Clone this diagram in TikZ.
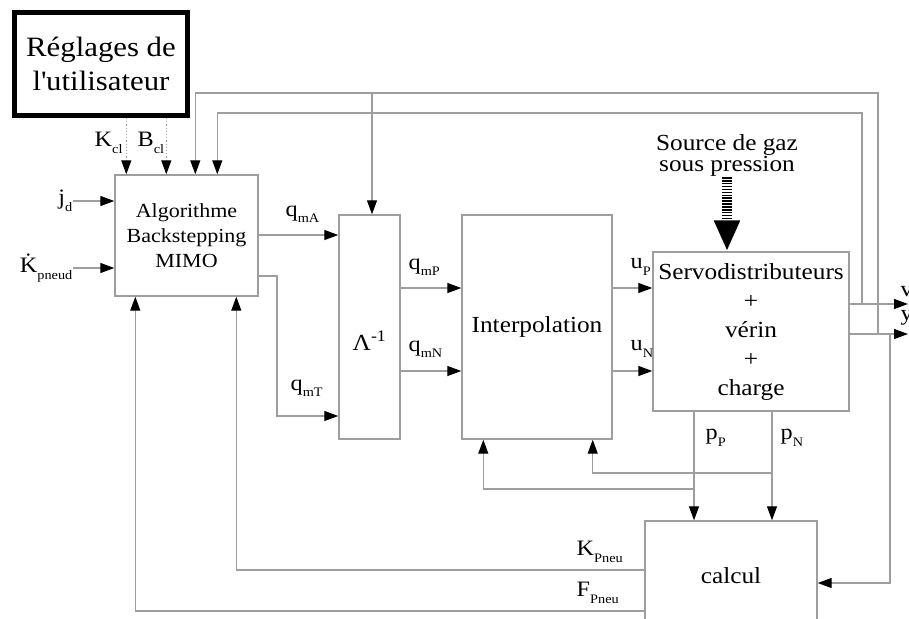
\documentclass[tikz,border=0pt]{standalone}
\usepackage{fontspec}
\setmainfont{Liberation Serif}[FakeStretch=1.1]
\usetikzlibrary{arrows.meta,calc,positioning}
\definecolor{wire}{HTML}{9E9E9E}
\newcommand{\lowsub}[1]{\raisebox{-0.65ex}{\fontsize{13}{13}\selectfont #1}}

\begin{document}
\begin{tikzpicture}[x=1pt, y=-1pt,
  blk/.style={draw=wire, line width=1.4pt, inner sep=0pt, align=center,
              font=\fontsize{23}{29}\selectfont},
  lbl/.style={inner sep=0.5pt, font=\fontsize{22}{22}\selectfont},
  arr/.style={draw=wire, line width=1.2pt, -{Triangle[length=14pt,width=10pt,color=black,fill=black]}},
  dotarr/.style={arr, dotted},
  gas/.style={draw=black, line width=10pt, dash pattern=on 1.5pt off 1.4pt,
              -{Triangle[length=31pt,width=24pt]}}
]
\useasboundingbox (0,0) rectangle (909,618);

\node[draw=black, line width=5pt, minimum width=173pt, minimum height=103pt, inner sep=0pt,
      align=center, font=\fontsize{28}{34}\selectfont] (user) at (101,64)
      {Réglages de\\l\textquotesingle utilisateur};
\node[blk, minimum width=143pt, minimum height=121pt, font=\fontsize{20}{25}\selectfont]
      (algo) at (186.5,235.5) {Algorithme\\Backstepping\\MIMO};
\node[blk, minimum width=61pt, minimum height=224pt] (lam) at (369.5,327) {\phantom{Λ}};
\node[font=\fontsize{23}{23}\selectfont] at ([yshift=-14pt]lam.center) {Λ\textsuperscript{-1}};
\node[blk, minimum width=150pt, minimum height=224pt] (interp) at (537,327) {Interpolation};
\node[blk, minimum width=196pt, minimum height=159pt] (servo) at (751,331.5)
      {Servodistributeurs\\+\\vérin\\+\\charge};
\node[blk, minimum width=172pt, minimum height=109pt] (calc) at (731,575.5) {calcul};
\node[inner sep=1pt, align=center, font=\fontsize{23}{21}\selectfont] (src) at (727,155)
      {Source de gaz\\sous pression};

\node[lbl, anchor=west] (kcl) at (94,143) {K\lowsub{cl}};
\node[lbl, anchor=west] (bcl) at (137,143) {B\lowsub{cl}};
\node[lbl, anchor=east] (jd) at (73,201) {j\lowsub{d}};
\node[lbl, anchor=east] (kp) at (73,268) {\.{K}\lowsub{pneud}};
\node[lbl, anchor=west] (qa) at (285,214) {q\lowsub{mA}};
\node[lbl, anchor=west] (qt) at (290,388) {q\lowsub{mT}};
\node[lbl, anchor=west] (qp) at (408,267) {q\lowsub{mP}};
\node[lbl, anchor=west] (qn) at (408,349) {q\lowsub{mN}};
\node[lbl, anchor=west] (up) at (630,267) {u\lowsub{P}};
\node[lbl, anchor=west] (un) at (630,349) {u\lowsub{N}};
\node[lbl, anchor=west] (pp) at (705,438) {p\lowsub{P}};
\node[lbl, anchor=west] (pn) at (780,438) {p\lowsub{N}};
\node[lbl, anchor=west] (kpn) at (576,552) {K\lowsub{Pneu}};
\node[lbl, anchor=west] (fpn) at (576,593) {F\lowsub{Pneu}};
\node[lbl, anchor=west] (vl) at (900,292) {v};
\node[lbl, anchor=west] (yl) at (900,318) {y};

\coordinate (a1) at ([xshift=12pt]algo.north west);
\coordinate (a2) at ([xshift=52pt]algo.north west);
\coordinate (a3) at ([xshift=81pt]algo.north west);
\coordinate (a4) at ([xshift=103pt]algo.north west);
\coordinate (top1) at (0,93);
\coordinate (top2) at (0,113);
\coordinate (vtap) at (862,304);
\coordinate (ytap) at (878,334);
\coordinate (ctap) at (890,334);
\coordinate (vout) at (908,304);
\coordinate (yout) at (908,334);
\coordinate (rA) at (0,235);
\coordinate (rT) at (0,276);
\coordinate (rT2) at (277,416);
\coordinate (rP) at (0,288);
\coordinate (rN) at (0,371);
\coordinate (bP) at (694,489);
\coordinate (bN) at (772,473);

\draw[dotarr] (a1 |- user.south) -- (a1);
\draw[dotarr] (a2 |- user.south) -- (a2);
\draw[arr] (ytap) -- (ytap |- top1) -- (a3 |- top1) -- (a3);
\draw[arr] ([xshift=2.5pt]lam.north |- top1) -- ([xshift=2.5pt]lam.north);
\draw[arr] (vtap) -- (vtap |- top2) -- (a4 |- top2) -- (a4);
\draw[arr] (servo.east |- vout) -- (vout);
\draw[arr] (servo.east |- yout) -- (yout);
\draw[arr] (ctap) |- ([yshift=-7.5pt]calc.east);
\draw[gas] (src.south) -- (src.south |- servo.north);

\draw[arr] (jd.east) -- (jd.east -| algo.west);
\draw[arr] (kp.east) -- (kp.east -| algo.west);
\draw[arr] (algo.east |- rA) -- (lam.west |- rA);
\draw[arr] (algo.east |- rT) -- (rT2 |- rT) -- (rT2) -- (lam.west |- rT2);
\draw[arr] (lam.east |- rP) -- (interp.west |- rP);
\draw[arr] (lam.east |- rN) -- (interp.west |- rN);
\draw[arr] (interp.east |- rP) -- (servo.west |- rP);
\draw[arr] (interp.east |- rN) -- (servo.west |- rN);

\draw[arr] (servo.south -| bP) -- (calc.north -| bP);
\draw[arr] (servo.south -| bN) -- (calc.north -| bN);
\draw[arr] (bN) -| ([xshift=-20pt]interp.south east);
\draw[arr] (bP) -| ([xshift=22pt]interp.south west);
\draw[arr] (calc.west |- 0,570) -| ([xshift=122pt]algo.south west);
\draw[arr] (calc.west |- 0,611) -| ([xshift=21pt]algo.south west);
\end{tikzpicture}
\end{document}
